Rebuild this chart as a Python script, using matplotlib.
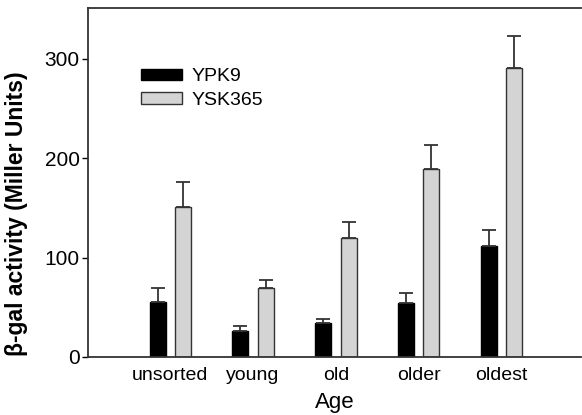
import matplotlib
matplotlib.use("Agg")
import matplotlib.pyplot as plt
import numpy as np

plt.rcParams['font.family'] = ['Liberation Sans', 'DejaVu Sans']

ages = ["unsorted", "young", "old", "older", "oldest"]
ypk9 = [55.5, 26, 34.5, 54.5, 112]
ypk9_err = [14, 5, 4, 10, 16]
ysk365 = [151, 69.5, 119.5, 189, 291]
ysk365_err = [25, 7.5, 16.5, 24, 32]

x = np.arange(len(ages))
w = 0.193
off = 0.154

fig = plt.figure(figsize=(5.82, 4.15), dpi=100)
ax = fig.add_axes([0.1512, 0.1398, 0.8468, 0.8409])

err_kw = dict(ecolor="#333333", elinewidth=1.3, capsize=5, capthick=1.3)
ax.bar(x - off, ypk9, w, color="black", edgecolor="black", linewidth=1,
       yerr=[np.zeros(len(x)), ypk9_err], error_kw=err_kw, label="YPK9")
ax.bar(x + off, ysk365, w, color="#d4d4d4", edgecolor="#333333", linewidth=1,
       yerr=[np.zeros(len(x)), ysk365_err], error_kw=err_kw, label="YSK365")

ax.set_xlim(-0.994, 4.958)
ax.set_ylim(0, 351)
ax.set_yticks([0, 100, 200, 300])
ax.set_xticks(x)
ax.set_xticklabels(ages, fontsize=14)
ax.tick_params(axis="x", length=0, pad=7)
ax.tick_params(axis="y", labelsize=15, length=4, width=1, direction="out", pad=2)
ax.spines["right"].set_visible(False)
for s in ["left", "top", "bottom"]:
    ax.spines[s].set_linewidth(1.3)
    ax.spines[s].set_color("#333333")

ax.set_xlabel("Age", fontsize=16, labelpad=6)
ax.set_ylabel("β-gal activity (Miller Units)", fontsize=16.5, fontweight="bold")
ax.yaxis.set_label_coords(-0.121, 0.41)

ax.legend(loc="upper left", bbox_to_anchor=(0.092, 0.85), frameon=False,
          fontsize=14, handlelength=2.1, handleheight=0.5, handletextpad=0.5,
          labelspacing=0.35, borderaxespad=0)

fig.savefig("out.png", dpi=100)
